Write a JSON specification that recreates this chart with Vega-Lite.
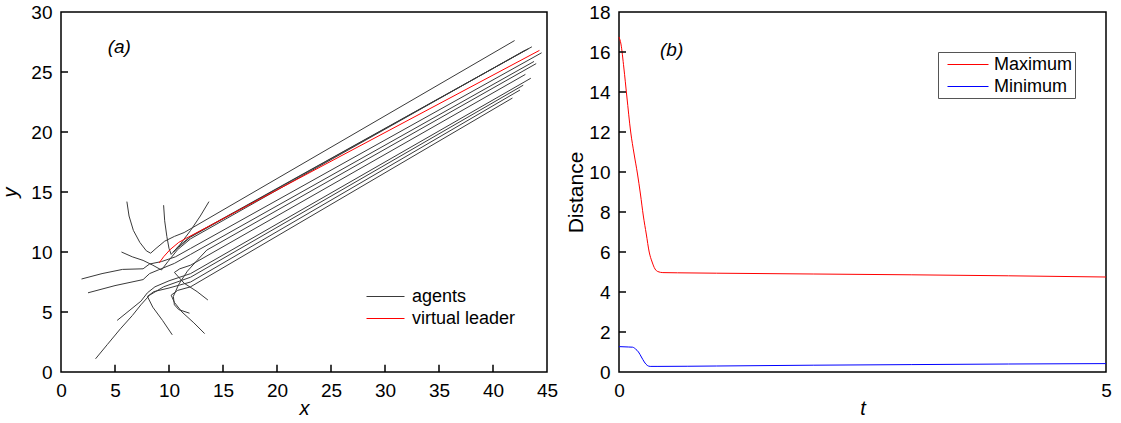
{
  "$schema": "https://vega.github.io/schema/vega-lite/v6.json",
  "padding": {"left": 0, "top": 2, "right": 0, "bottom": 0},
  "background": "white",
  "config": {
    "view": {"stroke": "#000", "strokeWidth": 1.5},
    "font": "Liberation Sans",
    "axis": {
      "grid": false,
      "labelFont": "Liberation Sans",
      "labelFontSize": 19,
      "labelColor": "#000",
      "labelOverlap": false,
      "labelFlush": false,
      "titleFont": "Liberation Sans",
      "titleFontSize": 20,
      "titleFontWeight": "normal",
      "titleColor": "#000",
      "domain": false,
      "ticks": false,
      "labelPadding": 9
    },
    "legend": {
      "labelFont": "Liberation Sans",
      "labelFontSize": 18,
      "labelColor": "#000",
      "symbolStrokeWidth": 1,
      "symbolSize": 400,
      "title": null
    }
  },
  "hconcat": [
    {
      "width": 486,
      "height": 360,
      "layer": [
        {
          "data": {"values": [
            {"id": "A1", "type": "agents", "ord": 1, "x": 6.1, "y": 14.2},
            {"id": "A1", "type": "agents", "ord": 2, "x": 6.3, "y": 13.0},
            {"id": "A1", "type": "agents", "ord": 3, "x": 6.7, "y": 11.8},
            {"id": "A1", "type": "agents", "ord": 4, "x": 7.3, "y": 10.8},
            {"id": "A1", "type": "agents", "ord": 5, "x": 7.9, "y": 10.1},
            {"id": "A1", "type": "agents", "ord": 6, "x": 8.3, "y": 9.9},
            {"id": "A1", "type": "agents", "ord": 7, "x": 8.8, "y": 10.3},
            {"id": "A1", "type": "agents", "ord": 8, "x": 9.6, "y": 10.9},
            {"id": "A1", "type": "agents", "ord": 9, "x": 10.5, "y": 11.3},
            {"id": "A1", "type": "agents", "ord": 10, "x": 11.4, "y": 11.62},
            {"id": "A1", "type": "agents", "ord": 11, "x": 42.0, "y": 27.62},

            {"id": "A2", "type": "agents", "ord": 1, "x": 9.5, "y": 13.9},
            {"id": "A2", "type": "agents", "ord": 2, "x": 9.6, "y": 12.6},
            {"id": "A2", "type": "agents", "ord": 3, "x": 9.8, "y": 11.3},
            {"id": "A2", "type": "agents", "ord": 4, "x": 10.0, "y": 10.3},
            {"id": "A2", "type": "agents", "ord": 5, "x": 10.2, "y": 9.8},
            {"id": "A2", "type": "agents", "ord": 6, "x": 10.8, "y": 10.4},
            {"id": "A2", "type": "agents", "ord": 7, "x": 12.0, "y": 11.3},
            {"id": "A2", "type": "agents", "ord": 8, "x": 43.6, "y": 27.1},

            {"id": "A3", "type": "agents", "ord": 1, "x": 13.7, "y": 14.2},
            {"id": "A3", "type": "agents", "ord": 2, "x": 12.9, "y": 13.0},
            {"id": "A3", "type": "agents", "ord": 3, "x": 12.0, "y": 11.8},
            {"id": "A3", "type": "agents", "ord": 4, "x": 11.0, "y": 10.6},
            {"id": "A3", "type": "agents", "ord": 5, "x": 10.4, "y": 10.0},
            {"id": "A3", "type": "agents", "ord": 6, "x": 10.9, "y": 10.4},
            {"id": "A3", "type": "agents", "ord": 7, "x": 12.0, "y": 11.25},
            {"id": "A3", "type": "agents", "ord": 8, "x": 43.3, "y": 26.95},

            {"id": "A4", "type": "agents", "ord": 1, "x": 5.6, "y": 10.0},
            {"id": "A4", "type": "agents", "ord": 2, "x": 6.6, "y": 9.6},
            {"id": "A4", "type": "agents", "ord": 3, "x": 7.6, "y": 9.3},
            {"id": "A4", "type": "agents", "ord": 4, "x": 8.5, "y": 8.9},
            {"id": "A4", "type": "agents", "ord": 5, "x": 9.3, "y": 8.5},
            {"id": "A4", "type": "agents", "ord": 6, "x": 9.9, "y": 9.2},
            {"id": "A4", "type": "agents", "ord": 7, "x": 10.8, "y": 10.2},
            {"id": "A4", "type": "agents", "ord": 8, "x": 12.0, "y": 11.1},
            {"id": "A4", "type": "agents", "ord": 9, "x": 43.0, "y": 26.83},

            {"id": "A5", "type": "agents", "ord": 1, "x": 1.9, "y": 7.75},
            {"id": "A5", "type": "agents", "ord": 2, "x": 3.8, "y": 8.2},
            {"id": "A5", "type": "agents", "ord": 3, "x": 5.7, "y": 8.55},
            {"id": "A5", "type": "agents", "ord": 4, "x": 7.6, "y": 8.6},
            {"id": "A5", "type": "agents", "ord": 5, "x": 8.2, "y": 9.0},
            {"id": "A5", "type": "agents", "ord": 6, "x": 9.3, "y": 9.2},
            {"id": "A5", "type": "agents", "ord": 7, "x": 10.6, "y": 9.6},
            {"id": "A5", "type": "agents", "ord": 8, "x": 12.0, "y": 10.3},
            {"id": "A5", "type": "agents", "ord": 9, "x": 44.5, "y": 26.6},

            {"id": "A6", "type": "agents", "ord": 1, "x": 2.5, "y": 6.6},
            {"id": "A6", "type": "agents", "ord": 2, "x": 5.0, "y": 7.2},
            {"id": "A6", "type": "agents", "ord": 3, "x": 7.6, "y": 7.7},
            {"id": "A6", "type": "agents", "ord": 4, "x": 8.2, "y": 8.2},
            {"id": "A6", "type": "agents", "ord": 5, "x": 9.0, "y": 8.5},
            {"id": "A6", "type": "agents", "ord": 6, "x": 10.5, "y": 9.05},
            {"id": "A6", "type": "agents", "ord": 7, "x": 12.0, "y": 9.8},
            {"id": "A6", "type": "agents", "ord": 8, "x": 43.8, "y": 25.88},

            {"id": "A7", "type": "agents", "ord": 1, "x": 11.9, "y": 4.9},
            {"id": "A7", "type": "agents", "ord": 2, "x": 10.9, "y": 5.2},
            {"id": "A7", "type": "agents", "ord": 3, "x": 10.5, "y": 5.6},
            {"id": "A7", "type": "agents", "ord": 4, "x": 10.4, "y": 6.3},
            {"id": "A7", "type": "agents", "ord": 5, "x": 10.9, "y": 7.3},
            {"id": "A7", "type": "agents", "ord": 6, "x": 11.7, "y": 8.4},
            {"id": "A7", "type": "agents", "ord": 7, "x": 12.6, "y": 9.3},
            {"id": "A7", "type": "agents", "ord": 8, "x": 13.5, "y": 10.16},
            {"id": "A7", "type": "agents", "ord": 9, "x": 44.0, "y": 25.7},

            {"id": "A8", "type": "agents", "ord": 1, "x": 13.6, "y": 6.0},
            {"id": "A8", "type": "agents", "ord": 2, "x": 12.6, "y": 6.7},
            {"id": "A8", "type": "agents", "ord": 3, "x": 11.4, "y": 7.4},
            {"id": "A8", "type": "agents", "ord": 4, "x": 10.5, "y": 8.3},
            {"id": "A8", "type": "agents", "ord": 5, "x": 11.0, "y": 8.6},
            {"id": "A8", "type": "agents", "ord": 6, "x": 12.0, "y": 8.9},
            {"id": "A8", "type": "agents", "ord": 7, "x": 43.0, "y": 24.8},

            {"id": "A9", "type": "agents", "ord": 1, "x": 5.2, "y": 4.3},
            {"id": "A9", "type": "agents", "ord": 2, "x": 6.3, "y": 5.1},
            {"id": "A9", "type": "agents", "ord": 3, "x": 7.4, "y": 5.9},
            {"id": "A9", "type": "agents", "ord": 4, "x": 8.0, "y": 6.6},
            {"id": "A9", "type": "agents", "ord": 5, "x": 8.7, "y": 7.1},
            {"id": "A9", "type": "agents", "ord": 6, "x": 10.0, "y": 7.6},
            {"id": "A9", "type": "agents", "ord": 7, "x": 12.0, "y": 8.2},
            {"id": "A9", "type": "agents", "ord": 8, "x": 43.5, "y": 24.48},

            {"id": "A10", "type": "agents", "ord": 1, "x": 3.2, "y": 1.1},
            {"id": "A10", "type": "agents", "ord": 2, "x": 4.3, "y": 2.3},
            {"id": "A10", "type": "agents", "ord": 3, "x": 5.5, "y": 3.6},
            {"id": "A10", "type": "agents", "ord": 4, "x": 6.6, "y": 4.7},
            {"id": "A10", "type": "agents", "ord": 5, "x": 7.4, "y": 5.6},
            {"id": "A10", "type": "agents", "ord": 6, "x": 8.2, "y": 6.4},
            {"id": "A10", "type": "agents", "ord": 7, "x": 9.5, "y": 7.1},
            {"id": "A10", "type": "agents", "ord": 8, "x": 12.0, "y": 7.9},
            {"id": "A10", "type": "agents", "ord": 9, "x": 42.8, "y": 23.9},

            {"id": "A11", "type": "agents", "ord": 1, "x": 10.3, "y": 3.1},
            {"id": "A11", "type": "agents", "ord": 2, "x": 9.4, "y": 4.3},
            {"id": "A11", "type": "agents", "ord": 3, "x": 8.5, "y": 5.4},
            {"id": "A11", "type": "agents", "ord": 4, "x": 8.0, "y": 6.3},
            {"id": "A11", "type": "agents", "ord": 5, "x": 8.6, "y": 6.7},
            {"id": "A11", "type": "agents", "ord": 6, "x": 10.0, "y": 7.0},
            {"id": "A11", "type": "agents", "ord": 7, "x": 12.0, "y": 7.5},
            {"id": "A11", "type": "agents", "ord": 8, "x": 42.5, "y": 23.5},

            {"id": "A12", "type": "agents", "ord": 1, "x": 13.3, "y": 3.2},
            {"id": "A12", "type": "agents", "ord": 2, "x": 12.3, "y": 4.1},
            {"id": "A12", "type": "agents", "ord": 3, "x": 11.2, "y": 5.0},
            {"id": "A12", "type": "agents", "ord": 4, "x": 10.5, "y": 5.8},
            {"id": "A12", "type": "agents", "ord": 5, "x": 10.2, "y": 6.4},
            {"id": "A12", "type": "agents", "ord": 6, "x": 10.8, "y": 6.8},
            {"id": "A12", "type": "agents", "ord": 7, "x": 12.0, "y": 7.1},
            {"id": "A12", "type": "agents", "ord": 8, "x": 41.8, "y": 22.83},

            {"id": "L", "type": "virtual leader", "ord": 1, "x": 9.1, "y": 9.1},
            {"id": "L", "type": "virtual leader", "ord": 2, "x": 9.5, "y": 9.6},
            {"id": "L", "type": "virtual leader", "ord": 3, "x": 10.1, "y": 10.2},
            {"id": "L", "type": "virtual leader", "ord": 4, "x": 10.9, "y": 10.8},
            {"id": "L", "type": "virtual leader", "ord": 5, "x": 11.5, "y": 11.1},
            {"id": "L", "type": "virtual leader", "ord": 6, "x": 44.3, "y": 26.8}
          ]},
          "mark": {"type": "line", "strokeWidth": 1},
          "encoding": {
            "x": {"field": "x", "type": "quantitative", "scale": {"domain": [0, 45], "nice": false},
                  "axis": {"title": "x", "titleFontStyle": "italic", "values": [0,5,10,15,20,25,30,35,40,45], "titlePadding": -2, "labelOverlap": false, "labelFlush": false}},
            "y": {"field": "y", "type": "quantitative", "scale": {"domain": [0, 30], "nice": false},
                  "axis": {"title": "y", "titleFontStyle": "italic", "values": [0,5,10,15,20,25,30], "titlePadding": 10, "labelOverlap": false, "labelFlush": false}},
            "detail": {"field": "id"},
            "order": {"field": "ord"},
            "color": {"field": "type", "type": "nominal",
                      "scale": {"domain": ["agents", "virtual leader"], "range": ["#3a3a3a", "#ff0000"]},
                      "legend": {"orient": "none", "legendX": 314, "legendY": 274, "symbolType": "M-1.9,0H1.9", "labelOffset": 16, "rowPadding": 2, "padding": 0}}
          }
        },
        {
          "data": {"values": [{"v": 5}, {"v": 10}, {"v": 15}, {"v": 20}, {"v": 25}, {"v": 30}, {"v": 35}, {"v": 40}]},
          "mark": {"type": "rule", "color": "#000", "strokeWidth": 1.5},
          "encoding": {
            "x": {"field": "v", "type": "quantitative",
                  "axis": {"title": "x", "titleFontStyle": "italic", "values": [0,5,10,15,20,25,30,35,40,45], "titlePadding": -2, "labelOverlap": false, "labelFlush": false}},
            "y": {"datum": 0, "type": "quantitative",
                  "axis": {"title": "y", "titleFontStyle": "italic", "values": [0,5,10,15,20,25,30], "titlePadding": 10, "labelOverlap": false, "labelFlush": false}},
            "y2": {"datum": 0.6}
          }
        },
        {
          "data": {"values": [{"v": 5}, {"v": 10}, {"v": 15}, {"v": 20}, {"v": 25}]},
          "mark": {"type": "rule", "color": "#000", "strokeWidth": 1.5},
          "encoding": {
            "y": {"field": "v", "type": "quantitative",
                  "axis": {"title": "y", "titleFontStyle": "italic", "values": [0,5,10,15,20,25,30], "titlePadding": 10, "labelOverlap": false, "labelFlush": false}},
            "x": {"datum": 0, "type": "quantitative",
                  "axis": {"title": "x", "titleFontStyle": "italic", "values": [0,5,10,15,20,25,30,35,40,45], "titlePadding": -2, "labelOverlap": false, "labelFlush": false}},
            "x2": {"datum": 0.65}
          }
        },
        {
          "data": {"values": [{}]},
          "mark": {"type": "text", "text": "(a)", "fontSize": 19, "fontStyle": "italic", "fontWeight": "normal", "font": "Liberation Sans", "fill": "#000"},
          "encoding": {
            "x": {"datum": 5.4, "type": "quantitative",
                  "axis": {"title": "x", "titleFontStyle": "italic", "values": [0,5,10,15,20,25,30,35,40,45], "titlePadding": -2, "labelOverlap": false, "labelFlush": false}},
            "y": {"datum": 27.1, "type": "quantitative",
                  "axis": {"title": "y", "titleFontStyle": "italic", "values": [0,5,10,15,20,25,30], "titlePadding": 10, "labelOverlap": false, "labelFlush": false}}
          }
        }
      ]
    },
    {
      "width": 487,
      "height": 360,
      "layer": [
        {
          "data": {"values": [
            {"series": "Maximum", "t": 0, "d": 16.75},
            {"series": "Maximum", "t": 0.02, "d": 16.4},
            {"series": "Maximum", "t": 0.05, "d": 15.2},
            {"series": "Maximum", "t": 0.08, "d": 13.8},
            {"series": "Maximum", "t": 0.12, "d": 12.0},
            {"series": "Maximum", "t": 0.155, "d": 10.9},
            {"series": "Maximum", "t": 0.19, "d": 9.9},
            {"series": "Maximum", "t": 0.22, "d": 8.9},
            {"series": "Maximum", "t": 0.25, "d": 7.8},
            {"series": "Maximum", "t": 0.28, "d": 6.9},
            {"series": "Maximum", "t": 0.31, "d": 6.0},
            {"series": "Maximum", "t": 0.34, "d": 5.5},
            {"series": "Maximum", "t": 0.37, "d": 5.15},
            {"series": "Maximum", "t": 0.4, "d": 5.02},
            {"series": "Maximum", "t": 0.45, "d": 4.97},
            {"series": "Maximum", "t": 0.6, "d": 4.96},
            {"series": "Maximum", "t": 1, "d": 4.94},
            {"series": "Maximum", "t": 2, "d": 4.9},
            {"series": "Maximum", "t": 3, "d": 4.86},
            {"series": "Maximum", "t": 4, "d": 4.81},
            {"series": "Maximum", "t": 5, "d": 4.75},
            {"series": "Minimum", "t": 0, "d": 1.27},
            {"series": "Minimum", "t": 0.1, "d": 1.25},
            {"series": "Minimum", "t": 0.14, "d": 1.24},
            {"series": "Minimum", "t": 0.17, "d": 1.15},
            {"series": "Minimum", "t": 0.2, "d": 1.0},
            {"series": "Minimum", "t": 0.23, "d": 0.75},
            {"series": "Minimum", "t": 0.26, "d": 0.5},
            {"series": "Minimum", "t": 0.29, "d": 0.33},
            {"series": "Minimum", "t": 0.32, "d": 0.28},
            {"series": "Minimum", "t": 0.4, "d": 0.28},
            {"series": "Minimum", "t": 1, "d": 0.3},
            {"series": "Minimum", "t": 2, "d": 0.34},
            {"series": "Minimum", "t": 3, "d": 0.37},
            {"series": "Minimum", "t": 4, "d": 0.4},
            {"series": "Minimum", "t": 5, "d": 0.42}
          ]},
          "mark": {"type": "line", "strokeWidth": 1, "interpolate": "monotone"},
          "encoding": {
            "x": {"field": "t", "type": "quantitative", "scale": {"domain": [0, 5], "nice": false},
                  "axis": {"title": "t", "titleFontStyle": "italic", "values": [0, 5], "format": "d", "titlePadding": -2, "labelOverlap": false, "labelFlush": false}},
            "y": {"field": "d", "type": "quantitative", "scale": {"domain": [0, 18], "nice": false},
                  "axis": {"title": "Distance", "titleFontSize": 21, "values": [0,2,4,6,8,10,12,14,16,18], "format": "d", "titlePadding": 2, "labelOverlap": false, "labelFlush": false}},
            "color": {"field": "series", "type": "nominal",
                      "scale": {"domain": ["Maximum", "Minimum"], "range": ["#ff0000", "#0000ff"]},
                      "legend": {"orient": "none", "legendX": 319, "legendY": 40, "symbolType": "M-2.05,0H2.05", "symbolOffset": 17.5, "labelOffset": 15.5, "rowPadding": 2, "padding": 2, "strokeColor": "#555555", "fillColor": "#ffffff"}}
          }
        },
        {
          "data": {"values": [{"v": 2}, {"v": 4}, {"v": 6}, {"v": 8}, {"v": 10}, {"v": 12}, {"v": 14}, {"v": 16}]},
          "mark": {"type": "rule", "color": "#000", "strokeWidth": 1.5},
          "encoding": {
            "y": {"field": "v", "type": "quantitative",
                  "axis": {"title": "Distance", "titleFontSize": 21, "values": [0,2,4,6,8,10,12,14,16,18], "format": "d", "titlePadding": 2, "labelOverlap": false, "labelFlush": false}},
            "x": {"datum": 0, "type": "quantitative",
                  "axis": {"title": "t", "titleFontStyle": "italic", "values": [0, 5], "format": "d", "titlePadding": -2, "labelOverlap": false, "labelFlush": false}},
            "x2": {"datum": 0.072}
          }
        },
        {
          "data": {"values": [{}]},
          "mark": {"type": "text", "text": "(b)", "fontSize": 19, "fontStyle": "italic", "fontWeight": "normal", "font": "Liberation Sans", "fill": "#000"},
          "encoding": {
            "x": {"datum": 0.54, "type": "quantitative",
                  "axis": {"title": "t", "titleFontStyle": "italic", "values": [0, 5], "format": "d", "titlePadding": -2, "labelOverlap": false, "labelFlush": false}},
            "y": {"datum": 16.1, "type": "quantitative",
                  "axis": {"title": "Distance", "titleFontSize": 21, "values": [0,2,4,6,8,10,12,14,16,18], "format": "d", "titlePadding": 2, "labelOverlap": false, "labelFlush": false}}
          }
        }
      ]
    }
  ],
  "spacing": 72,
  "bounds": "flush",
  "resolve": {"scale": {"color": "independent"}}
}
